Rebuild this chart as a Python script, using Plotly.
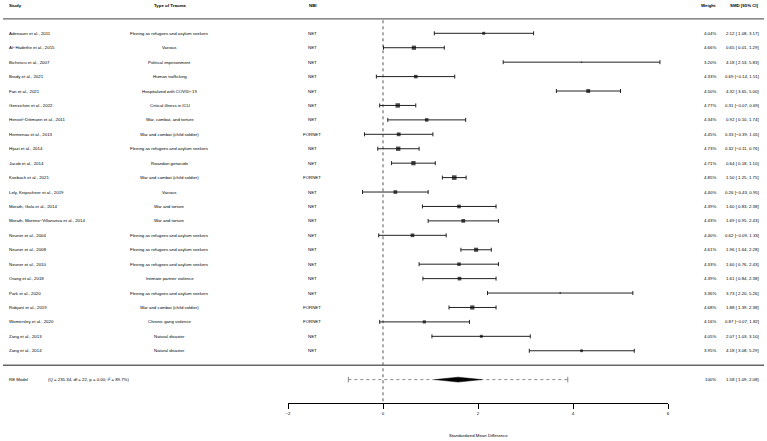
import plotly.graph_objects as go

MINUS = "\u2212"

studies = ["Adenauer et al., 2011", "Al\u2212Hadethe et al., 2015", "Bichescu et al., 2007", "Brady et al., 2021",
           "Fan et al., 2021", "Gensichen et al., 2022", "Hensel\u2212Dittmann et al., 2011", "Hermenau et al., 2013",
           "Hijazi et al., 2014", "Jacob et al., 2014", "Koebach et al., 2021", "Lely, Knipscheer et al., 2019",
           "Morath, Gola et al., 2014", "Morath, Moreno\u2212Villanueva et al., 2014", "Neuner et al., 2004",
           "Neuner et al., 2008", "Neuner et al., 2010", "Orang et al., 2018", "Park et al., 2020",
           "Robjant et al., 2019", "Womersley et al., 2020", "Zang et al., 2013", "Zang et al., 2014"]
trauma = ["Fleeing as refugees and asylum seekers", "Various", "Political imprisonment", "Human trafficking",
          "Hospitalized with COVID\u221219", "Critical illness in ICU", "War, combat, and torture",
          "War and combat (child soldier)", "Fleeing as refugees and asylum seekers", "Rwandan genocide",
          "War and combat (child soldier)", "Various", "War and torture", "War and torture",
          "Fleeing as refugees and asylum seekers", "Fleeing as refugees and asylum seekers",
          "Fleeing as refugees and asylum seekers", "Intimate partner violence",
          "Fleeing as refugees and asylum seekers", "War and combat (child soldier)", "Chronic gang violence",
          "Natural disaster", "Natural disaster"]
nbi = ["NET", "NET", "NET", "NET", "NET", "NET", "NET", "FORNET", "NET", "NET", "FORNET", "NET", "NET", "NET",
       "NET", "NET", "NET", "NET", "NET", "FORNET", "FORNET", "NET", "NET"]
weights = [4.04, 4.66, 3.20, 4.33, 4.50, 4.77, 4.34, 4.45, 4.73, 4.71, 4.85, 4.40, 4.39, 4.43, 4.40, 4.61,
           4.33, 4.39, 3.36, 4.68, 4.16, 4.05, 3.95]
smd = [2.12, 0.65, 4.18, 0.69, 4.32, 0.31, 0.92, 0.33, 0.32, 0.64, 1.50, 0.26, 1.60, 1.69, 0.62, 1.96,
       1.60, 1.61, 3.73, 1.88, 0.87, 2.07, 4.18]
ci_lo = [1.08, 0.01, 2.53, -0.14, 3.65, -0.07, 0.10, -0.39, -0.11, 0.18, 1.25, -0.43, 0.83, 0.95, -0.09, 1.64,
         0.76, 0.84, 2.20, 1.39, -0.07, 1.03, 3.08]
ci_hi = [3.17, 1.29, 5.83, 1.51, 5.00, 0.69, 1.74, 1.05, 0.76, 1.10, 1.75, 0.95, 2.38, 2.43, 1.33, 2.28,
         2.43, 2.38, 5.26, 2.38, 1.82, 3.10, 5.29]
re_label = "RE Model"
re_stats = "(Q = 235.34, df = 22, p = 0.00; I\u00b2 = 89.7%)"
re_weight = "100%"
re_est, re_lo, re_hi = 1.58, 1.09, 2.08
pi_lo, pi_hi = -0.73, 3.89
x_ticks = [-2, 0, 2, 4, 6]
headers = ["Study", "Type of Trauma", "NBI", "Weight", "SMD [95% CI]"]
x_title = "Standardized Mean Difference"

W, H = 767, 441
FONT = "Liberation Sans, Arial, sans-serif"
FS = 4.35
ROW0, ROWH = 33.3, 14.43


def px_to_row(py):
    return (py - ROW0) / ROWH


def fmt(v):
    s = f"{v:.2f}"
    return s.replace("-", MINUS)


def ci_text(e, lo, hi):
    lo_s = fmt(lo)
    if lo >= 0:
        lo_s = " " + lo_s
    return f"{fmt(e)} [{lo_s}, {fmt(hi)}]"


rows = list(range(len(studies)))
re_row = len(studies) + 1
axis_py = 403.3

fig = go.Figure()

# reference line at 0
fig.add_trace(go.Scatter(x=[0, 0], y=[-0.9, px_to_row(axis_py)], mode="lines",
                         line=dict(color="#555555", width=1, dash="dot"), hoverinfo="skip", showlegend=False))

# prediction interval
fig.add_trace(go.Scatter(x=[pi_lo, pi_hi], y=[re_row, re_row], mode="lines+markers",
                         line=dict(color="#888888", width=1, dash="dot"),
                         marker=dict(symbol="line-ns", size=4, line=dict(width=1, color="#888888")),
                         hoverinfo="skip", showlegend=False))

# study estimates
wmin, wmax = min(weights), max(weights)
sizes = [1.2 + 3.4 * (w - wmin) / (wmax - wmin) for w in weights]
fig.add_trace(go.Scatter(
    x=smd, y=rows, mode="markers",
    marker=dict(symbol="square", size=sizes, color="black", line=dict(width=0)),
    error_x=dict(type="data", symmetric=False,
                 array=[h - e for h, e in zip(ci_hi, smd)],
                 arrayminus=[e - l for e, l in zip(smd, ci_lo)],
                 color="#222222", thickness=1, width=2),
    hoverinfo="skip", showlegend=False))

# summary diamond
dh = 0.17
fig.add_trace(go.Scatter(x=[re_lo, re_est, re_hi, re_est, re_lo],
                         y=[re_row, re_row - dh, re_row, re_row + dh, re_row],
                         mode="lines", fill="toself", fillcolor="black",
                         line=dict(color="black", width=0.5), hoverinfo="skip", showlegend=False))

ann = []
col_x = {"study": 8, "trauma": 169.5, "nbi": 312, "weight": 717, "ci": 760}


def add_text(text, px, row, anchor, bold=False):
    ann.append(dict(text=f"<b>{text}</b>" if bold else text, x=px / W, xref="paper", y=row, yref="y",
                    xanchor=anchor, yanchor="middle", showarrow=False, borderpad=0,
                    font=dict(size=FS, family=FONT, color="black")))


hrow = -1.93
add_text(headers[0], col_x["study"], hrow, "left", True)
add_text(headers[1], col_x["trauma"], hrow, "center", True)
add_text(headers[2], col_x["nbi"], hrow, "center", True)
add_text(headers[3], col_x["weight"], hrow, "right", True)
add_text(headers[4], col_x["ci"], hrow, "right", True)

for i in rows:
    add_text(studies[i], col_x["study"], i, "left")
    add_text(trauma[i], col_x["trauma"], i, "center")
    add_text(nbi[i], col_x["nbi"], i, "center")
    add_text(f"{weights[i]:.2f}%", col_x["weight"], i, "right")
    add_text(ci_text(smd[i], ci_lo[i], ci_hi[i]), col_x["ci"], i, "right")

add_text(re_label, col_x["study"], re_row, "left")
add_text(re_stats, 47, re_row, "left")
add_text(re_weight, col_x["weight"], re_row, "right")
add_text(ci_text(re_est, re_lo, re_hi), col_x["ci"], re_row, "right")

# axis title
ann.append(dict(text=x_title, x=2, xref="x", y=1 - 435.7 / H, yref="paper", xanchor="center",
                yanchor="middle", showarrow=False, font=dict(size=FS, family=FONT, color="black")))

shapes = []
for r in [-1, len(studies)]:
    shapes.append(dict(type="line", xref="paper", yref="y", x0=3 / W, x1=764 / W, y0=r, y1=r,
                       line=dict(color="#666666", width=1.4)))

fig.update_layout(
    width=W, height=H, margin=dict(l=0, r=0, t=0, b=0),
    paper_bgcolor="white", plot_bgcolor="white",
    annotations=ann, shapes=shapes, showlegend=False,
    xaxis=dict(domain=[288 / W, 668 / W], range=[-2, 6], anchor="free", position=1 - axis_py / H,
               showline=True, linecolor="black", linewidth=1.2, ticks="outside", ticklen=5,
               tickcolor="black", tickwidth=1.2, tickvals=x_ticks,
               ticktext=[str(t).replace("-", MINUS) for t in x_ticks],
               tickfont=dict(size=FS, family=FONT, color="black"),
               showgrid=False, zeroline=False, automargin=False, fixedrange=True),
    yaxis=dict(domain=[0, 1], range=[px_to_row(H), px_to_row(0)], visible=False,
               showgrid=False, zeroline=False, automargin=False, fixedrange=True),
)

fig.write_html("out.html", config={"displayModeBar": False},
               post_script="document.body.style.margin='0px';document.body.style.padding='0px';")
